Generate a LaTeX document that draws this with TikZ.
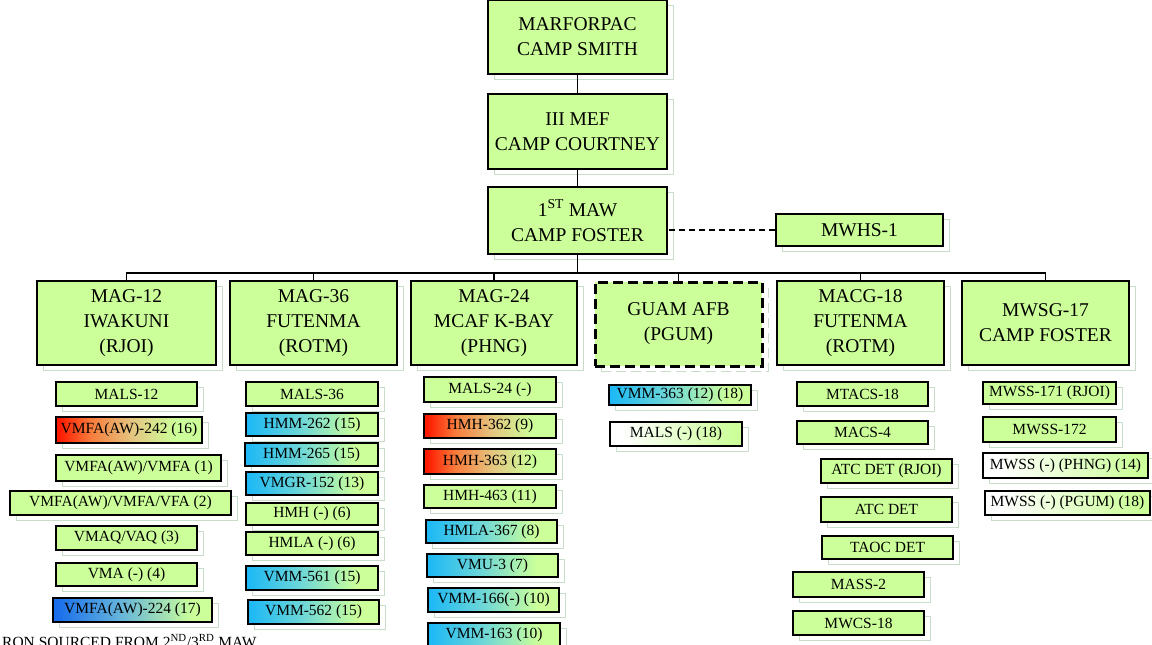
\documentclass[tikz,border=0pt]{standalone}
\usepackage{fontspec}
\setmainfont{Liberation Serif}
\usepackage{tikz}
\usepackage{xcolor}
\usetikzlibrary{positioning}
\usetikzlibrary{calc}
\usetikzlibrary{shadows}
\definecolor{boxgreen}{RGB}{204, 255, 153}
\definecolor{shadowline}{RGB}{200, 222, 200}
\definecolor{gradred}{RGB}{255, 25, 0}
\definecolor{redmid}{RGB}{248, 125, 60}
\definecolor{redtan}{RGB}{228, 198, 128}
\definecolor{gradcyan}{RGB}{30, 185, 245}
\definecolor{cyanmid}{RGB}{110, 215, 215}
\definecolor{graddeep}{RGB}{25, 110, 235}
\definecolor{deepmid}{RGB}{100, 180, 220}
\pgfdeclarehorizontalshading{redfade}{100bp}{color(0bp)=(gradred); color(26bp)=(gradred); color(37bp)=(redmid); color(51bp)=(redtan); color(66bp)=(boxgreen); color(100bp)=(boxgreen)}
\pgfdeclarehorizontalshading{cyanfade}{100bp}{color(0bp)=(gradcyan); color(26bp)=(gradcyan); color(46bp)=(cyanmid); color(67bp)=(boxgreen); color(100bp)=(boxgreen)}
\pgfdeclarehorizontalshading{deepfade}{100bp}{color(0bp)=(graddeep); color(26bp)=(graddeep); color(46bp)=(deepmid); color(69bp)=(boxgreen); color(100bp)=(boxgreen)}
\pgfdeclarehorizontalshading{whitefade}{100bp}{color(0bp)=(white); color(30bp)=(white); color(72bp)=(boxgreen); color(100bp)=(boxgreen)}
\tikzstyle{boxshadow} = [
	general shadow={draw=shadowline, line width=1pt, shadow xshift=6pt, shadow yshift=-5pt}
]
\tikzstyle{command} = [
	boxshadow,
	draw=black,
	line width=2pt,
	fill=boxgreen,
	align=center,
	inner sep=0pt,
	font=\fontsize{19.5}{25}\selectfont
]
\tikzstyle{unit} = [
	boxshadow,
	draw=black,
	line width=1.8pt,
	fill=boxgreen,
	inner sep=0pt,
	font=\fontsize{15.5}{18}\selectfont
]
\tikzstyle{redunit} = [unit, shade, shading=redfade]
\tikzstyle{blueunit} = [unit, shade, shading=cyanfade]
\tikzstyle{deepunit} = [unit, shade, shading=deepfade]
\tikzstyle{whiteunit} = [unit, shade, shading=whitefade]
\tikzstyle{link} = [draw=black, line width=1.8pt]

\begin{document}
\begin{tikzpicture}[x=1pt, y=-1pt]
	\path[use as bounding box, clip] (0,0) rectangle (1152,645);

	%
	% Command chain
	\node[command, minimum width=179, minimum height=74] (MARFORPAC) at (577.5,37) {MARFORPAC\\CAMP SMITH};
	\node[command, minimum width=179, minimum height=75] (IIIMEF) at (577.5,131.5) {III MEF\\CAMP COURTNEY};
	\node[command, minimum width=179, minimum height=67] (MAW) at (577.5,220.5) {1\textsuperscript{ST} MAW\\CAMP FOSTER};
	\node[command, minimum width=167, minimum height=32] (MWHS) at (859.5,230) {MWHS-1};

	% Groups
	\node[command, minimum width=179, minimum height=84] (MAG12) at (126.5,323) {MAG-12\\IWAKUNI\\(RJOI)};
	\node[command, minimum width=167, minimum height=84] (MAG36) at (313.5,323) {MAG-36\\FUTENMA\\(ROTM)};
	\node[command, minimum width=166, minimum height=84] (MAG24) at (494,323) {MAG-24\\MCAF K-BAY\\(PHNG)};
	\node[command, minimum width=167, minimum height=84, line width=3pt, dash pattern=on 10pt off 5pt] (GUAM) at (678.5,324) {GUAM AFB\\(PGUM)};
	\node[command, minimum width=167, minimum height=84] (MACG18) at (860.5,323) {MACG-18\\FUTENMA\\(ROTM)};
	\node[command, minimum width=167, minimum height=84] (MWSG17) at (1045.5,323) {MWSG-17\\CAMP FOSTER};

	% MAG-12 units
	\node[unit, minimum width=141, minimum height=24] (MALS12) at (126.5,394) {MALS-12};
	\node[redunit, minimum width=146, minimum height=26] (VMFA242) at (129,430) {VMFA(AW)-242 (16)};
	\node[unit, minimum width=165, minimum height=26] (VMFAone) at (138.5,468) {VMFA(AW)/VMFA (1)};
	\node[unit, minimum width=221, minimum height=24] (VMFAtwo) at (120.5,503) {VMFA(AW)/VMFA/VFA (2)};
	\node[unit, minimum width=141, minimum height=24] (VMAQ) at (126.5,538) {VMAQ/VAQ (3)};
	\node[unit, minimum width=141, minimum height=23] (VMA) at (126.5,574.5) {VMA (-) (4)};
	\node[deepunit, minimum width=159, minimum height=24] (VMFA224) at (132.5,610) {VMFA(AW)-224 (17)};

	% MAG-36 units
	\node[unit, minimum width=132, minimum height=24] (MALS36) at (312,394) {MALS-36};
	\node[blueunit, minimum width=132, minimum height=23] (HMM262) at (312,424.5) {HMM-262 (15)};
	\node[blueunit, minimum width=133, minimum height=23] (HMM265) at (311.5,454.5) {HMM-265 (15)};
	\node[blueunit, minimum width=132, minimum height=23] (VMGR152) at (312,483.5) {VMGR-152 (13)};
	\node[unit, minimum width=132, minimum height=22] (HMHsix) at (312,514) {HMH (-) (6)};
	\node[unit, minimum width=132, minimum height=23] (HMLAsix) at (312,543.5) {HMLA (-) (6)};
	\node[blueunit, minimum width=132, minimum height=24] (VMM561) at (312,578) {VMM-561 (15)};
	\node[blueunit, minimum width=131, minimum height=24] (VMM562) at (313.5,612) {VMM-562 (15)};

	% MAG-24 units
	\node[unit, minimum width=132, minimum height=25] (MALS24) at (490,389.5) {MALS-24 (-)};
	\node[redunit, minimum width=132, minimum height=24] (HMH362) at (490,426) {HMH-362 (9)};
	\node[redunit, minimum width=132, minimum height=25] (HMH363) at (490,461.5) {HMH-363 (12)};
	\node[unit, minimum width=132, minimum height=23] (HMH463) at (490,496.5) {HMH-463 (11)};
	\node[blueunit, minimum width=131, minimum height=23] (HMLA367) at (491.5,531.5) {HMLA-367 (8)};
	\node[blueunit, minimum width=131, minimum height=23] (VMU3) at (492.5,565.5) {VMU-3 (7)};
	\node[blueunit, minimum width=131, minimum height=24] (VMM166) at (493.5,600) {VMM-166(-) (10)};
	\node[blueunit, minimum width=132, minimum height=24] (VMM163) at (494,635) {VMM-163 (10)};

	% Guam units
	\node[blueunit, minimum width=142, minimum height=20] (VMM363) at (680,395) {VMM-363 (12) (18)};
	\node[whiteunit, minimum width=132, minimum height=24] (MALSG) at (676,434) {MALS (-) (18)};

	% MACG-18 units
	\node[unit, minimum width=131, minimum height=24] (MTACS18) at (862.5,394) {MTACS-18};
	\node[unit, minimum width=131, minimum height=23] (MACS4) at (862.5,432.5) {MACS-4};
	\node[unit, minimum width=131, minimum height=24] (ATCRJOI) at (886.5,471) {ATC DET (RJOI)};
	\node[unit, minimum width=131, minimum height=25] (ATCDET) at (886.5,509.5) {ATC DET};
	\node[unit, minimum width=131, minimum height=23] (TAOCDET) at (887.5,547.5) {TAOC DET};
	\node[unit, minimum width=131, minimum height=25] (MASS2) at (858.5,584.5) {MASS-2};
	\node[unit, minimum width=131, minimum height=24] (MWCS18) at (858.5,623) {MWCS-18};

	% MWSG-17 units
	\node[unit, minimum width=133, minimum height=22] (MWSS171) at (1049.5,393) {MWSS-171 (RJOI)};
	\node[unit, minimum width=133, minimum height=25] (MWSS172) at (1049.5,429.5) {MWSS-172};
	\node[whiteunit, minimum width=165, minimum height=25] (MWSSPHNG) at (1065.5,465.5) {MWSS (-) (PHNG) (14)};
	\node[whiteunit, minimum width=165, minimum height=24] (MWSSPGUM) at (1067.5,503) {MWSS (-) (PGUM) (18)};

	% Note
	\node[anchor=base west, inner sep=0pt, font=\fontsize{15.5}{18}\selectfont] (note) at (2,647) {RON SOURCED FROM 2\textsuperscript{ND}/3\textsuperscript{RD} MAW};

	% Connectors
	\draw[link] (MARFORPAC) -- (IIIMEF);
	\draw[link] (IIIMEF) -- (MAW);
	\foreach \g in {MAG12, MAG36, MAG24, GUAM, MACG18, MWSG17}
		\draw[link] (MAW.south) -- ++(0,18) -| (\g.north);
	\draw[line width=1.5pt, dash pattern=on 6pt off 4pt] (MWHS.west) -- (MWHS.west -| MAW.east);

\end{tikzpicture}
\end{document}
